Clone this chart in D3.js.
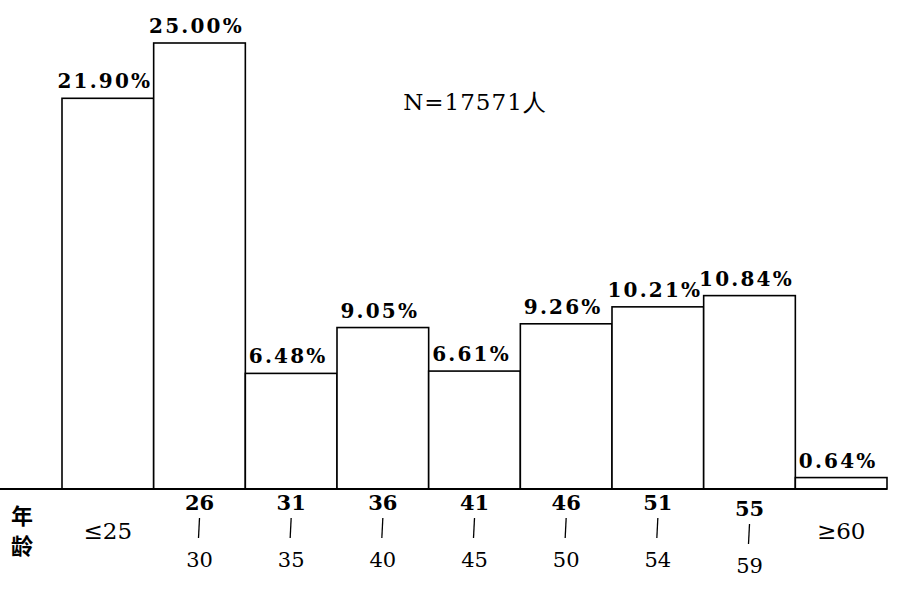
<!DOCTYPE html>
<html><head><meta charset="utf-8">
<script src="https://cdn.jsdelivr.net/npm/d3@7/dist/d3.min.js"></script>
<style>body{margin:0;background:#fff}</style>
</head><body>
<script>
const categories = ["≤25","26-30","31-35","36-40","41-45","46-50","51-54","55-59","≥60"];
const tickTop = ["≤25","26","31","36","41","46","51","55","≥60"];
const tickBottom = ["","30","35","40","45","50","54","59",""];
const values = [21.90,25.00,6.48,9.05,6.61,9.26,10.21,10.84,0.64];
const valueLabels = ["21.90%","25.00%","6.48%","9.05%","6.61%","9.26%","10.21%","10.84%","0.64%"];
const axisTitle = ["年","龄"];
const note = "N=17571人";

const W=898,H=598;
const svg=d3.select("body").append("svg").attr("width",W).attr("height",H);
const x=d3.scaleBand().domain(categories).range([62,887]).padding(0);
const y=d3.scaleLinear().domain([0,25]).range([489,43]);
const serif="'DejaVu Serif','Liberation Serif',serif";

svg.selectAll("rect.bar").data(values).join("rect")
  .attr("x",(d,i)=>x(categories[i])).attr("y",d=>y(d))
  .attr("width",x.bandwidth()).attr("height",d=>y(0)-y(d))
  .attr("fill","#fff").attr("stroke","#000").attr("stroke-width",1.6);

svg.append("line").attr("x1",0).attr("x2",887).attr("y1",y(0)).attr("y2",y(0))
  .attr("stroke","#000").attr("stroke-width",2);

svg.selectAll("text.val").data(values).join("text")
  .attr("x",(d,i)=>x(categories[i])+x.bandwidth()/2-3)
  .attr("y",d=>y(d)-10)
  .attr("text-anchor","middle").attr("font-family",serif).attr("font-weight","bold")
  .attr("font-size",20).attr("letter-spacing",2.2)
  .text((d,i)=>valueLabels[i]);

const g=svg.append("g");
categories.forEach((c,i)=>{
  const cx=x(c)+x.bandwidth()/2;
  if(tickBottom[i]===""){
    g.append("text").attr("x",cx).attr("y",539).attr("text-anchor","middle")
      .attr("font-family",serif).attr("font-size",23).text(tickTop[i]);
  } else {
    const off = i===7?6:0;
    g.append("text").attr("x",cx).attr("y",510+off).attr("text-anchor","middle")
      .attr("font-family",serif).attr("font-weight","bold").attr("font-size",21).text(tickTop[i]);
    g.append("line").attr("x1",cx).attr("x2",cx-1).attr("y1",518+off).attr("y2",538+off)
      .attr("stroke","#000").attr("stroke-width",1.3);
    g.append("text").attr("x",cx).attr("y",567+off).attr("text-anchor","middle")
      .attr("font-family",serif).attr("font-size",21).text(tickBottom[i]);
  }
});
axisTitle.forEach((t,i)=>{
  svg.append("text").attr("x",22).attr("y",524+i*30).attr("text-anchor","middle")
    .attr("font-family","'Noto Sans CJK SC',sans-serif").attr("font-weight","bold")
    .attr("font-size",22).text(t);
});
svg.append("text").attr("x",475).attr("y",110).attr("text-anchor","middle")
  .attr("font-family",serif).attr("font-size",23).attr("letter-spacing",1).text(note);
</script>
</body></html>
